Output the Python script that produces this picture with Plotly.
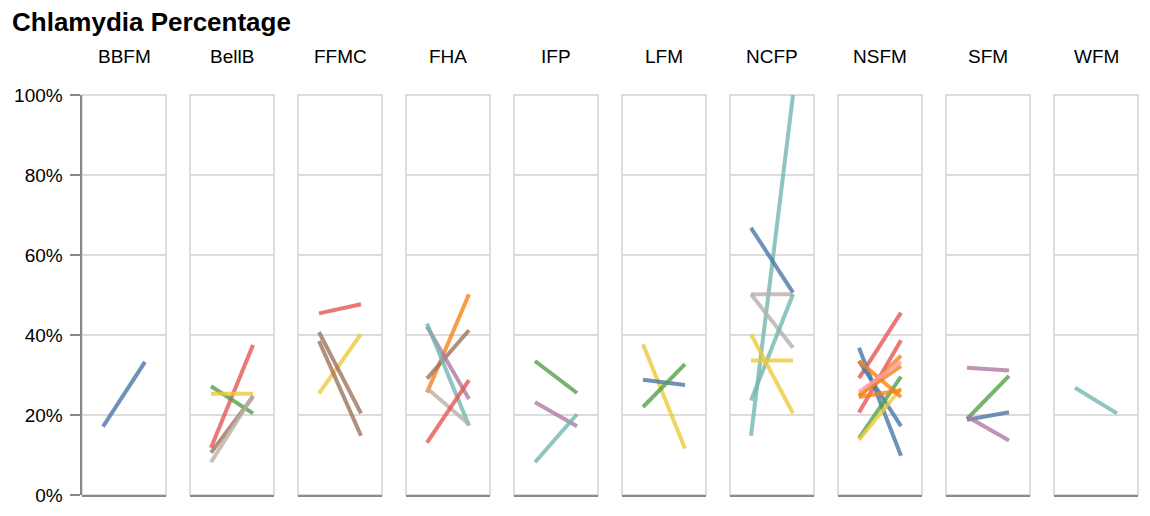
import plotly.graph_objects as go

# ---------------- data ----------------
facets = ["BBFM", "BellB", "FFMC", "FHA", "IFP", "LFM", "NCFP", "NSFM", "SFM", "WFM"]
periods = ["Period 1", "Period 2"]
y_ticks = [0, 0.2, 0.4, 0.6, 0.8, 1.0]

line_facet = [
    "BBFM",
    "BellB", "BellB", "BellB", "BellB", "BellB",
    "FFMC", "FFMC", "FFMC", "FFMC",
    "FHA", "FHA", "FHA", "FHA", "FHA", "FHA",
    "IFP", "IFP", "IFP",
    "LFM", "LFM", "LFM",
    "NCFP", "NCFP", "NCFP", "NCFP", "NCFP", "NCFP", "NCFP",
    "NSFM", "NSFM", "NSFM", "NSFM", "NSFM", "NSFM", "NSFM", "NSFM", "NSFM", "NSFM", "NSFM",
    "SFM", "SFM", "SFM", "SFM",
    "WFM",
]
line_group = [
    0,
    2, 4, 5, 8, 9,
    2, 5, 8, 8,
    1, 8, 6, 3, 9, 2,
    4, 6, 3,
    5, 0, 4,
    3, 0, 9, 9, 3, 5, 5,
    2, 2, 0, 0, 4, 5, 1, 1, 1, 1, 7,
    6, 4, 0, 6,
    3,
]
start_pct = [
    0.171,
    0.118, 0.272, 0.253, 0.106, 0.082,
    0.454, 0.254, 0.407, 0.385,
    0.256, 0.291, 0.421, 0.429, 0.267, 0.131,
    0.335, 0.232, 0.082,
    0.377, 0.288, 0.220,
    0.148, 0.668, 0.502, 0.502, 0.236, 0.402, 0.336,
    0.292, 0.206, 0.368, 0.335, 0.142, 0.138, 0.335, 0.246, 0.250, 0.245, 0.258,
    0.318, 0.190, 0.188, 0.196,
    0.268,
]
end_pct = [
    0.333,
    0.375, 0.204, 0.253, 0.246, 0.249,
    0.477, 0.402, 0.204, 0.148,
    0.502, 0.412, 0.240, 0.173, 0.177, 0.287,
    0.255, 0.172, 0.202,
    0.116, 0.275, 0.327,
    1.000, 0.506, 0.502, 0.368, 0.502, 0.204, 0.336,
    0.456, 0.387, 0.098, 0.172, 0.296, 0.267, 0.245, 0.348, 0.322, 0.262, 0.333,
    0.311, 0.298, 0.207, 0.136,
    0.204,
]
palette = ["#4c78a8", "#f58518", "#e45756", "#72b7b2", "#54a24b",
           "#eeca3b", "#b279a2", "#ff9da6", "#9d755d", "#bab0ac"]

# ---------------- layout geometry ----------------
W, H = 1150, 516
FONT = "Liberation Sans, Arial, Helvetica, sans-serif"
panel_left0, panel_w, panel_step = 82, 84, 108
plot_top, plot_bottom = 95, 495

def px(x):
    return x / W

def py(y):
    return 1 - y / H

fig = go.Figure()

for i, f in enumerate(facets):
    ax = "" if i == 0 else str(i + 1)
    for k in range(len(line_facet)):
        if line_facet[k] != f:
            continue
        fig.add_trace(go.Scatter(
            x=periods, y=[start_pct[k], end_pct[k]],
            mode="lines",
            line=dict(color=palette[line_group[k]], width=4),
            opacity=0.8,
            xaxis="x" + ax, yaxis="y" + ax,
            showlegend=False, hoverinfo="skip",
        ))

layout = dict(
    width=W, height=H,
    margin=dict(l=0, r=0, t=0, b=0, pad=0, autoexpand=False),
    paper_bgcolor="white", plot_bgcolor="white",
    font=dict(family=FONT, color="black"),
    showlegend=False,
)
shapes = []
annotations = []
for i, f in enumerate(facets):
    x0 = panel_left0 + panel_step * i
    x1 = x0 + panel_w
    ax = "" if i == 0 else str(i + 1)
    layout["xaxis" + ax] = dict(
        domain=[px(x0), px(x1)],
        anchor="y" + ax,
        type="category",
        range=[-0.5, 1.5],
        showticklabels=False, ticks="",
        showgrid=False, zeroline=False,
        showline=True, linecolor="#888", linewidth=2,
        fixedrange=True, automargin=False,
    )
    ydict = dict(
        domain=[py(plot_bottom), py(plot_top)],
        range=[0, 1],
        tickvals=y_ticks,
        tickformat=".0%",
        showgrid=True, gridcolor="#dddddd", gridwidth=2,
        zeroline=False,
        fixedrange=True, automargin=False,
    )
    if i == 0:
        ydict.update(
            anchor="free", position=px(80.5),
            showline=True, linecolor="#888", linewidth=2,
            ticks="outside", ticklen=10, tickwidth=2, tickcolor="#888",
            tickfont=dict(size=19, color="black", family=FONT),
            ticklabelstandoff=3,
        )
    else:
        ydict.update(anchor="x" + ax, showticklabels=False, ticks="", showline=False)
    layout["yaxis" + ax] = ydict
    shapes.append(dict(
        type="rect", xref="paper", yref="paper",
        x0=px(x0), x1=px(x1), y0=py(plot_bottom), y1=py(plot_top),
        line=dict(color="#dddddd", width=2), fillcolor="rgba(0,0,0,0)",
        layer="below",
    ))
    annotations.append(dict(
        text=f, xref="paper", yref="paper",
        x=px((x0 + x1) / 2), y=py(57), xanchor="center", yanchor="middle",
        showarrow=False, font=dict(size=19, color="black", family=FONT),
    ))

annotations.append(dict(
    text="<b>Chlamydia Percentage</b>", xref="paper", yref="paper",
    x=px(10), y=py(22), xanchor="left", yanchor="middle",
    showarrow=False, font=dict(size=26, color="black", family=FONT),
))
layout["shapes"] = shapes
layout["annotations"] = annotations
fig.update_layout(**layout)

fig.write_html("out.html")
